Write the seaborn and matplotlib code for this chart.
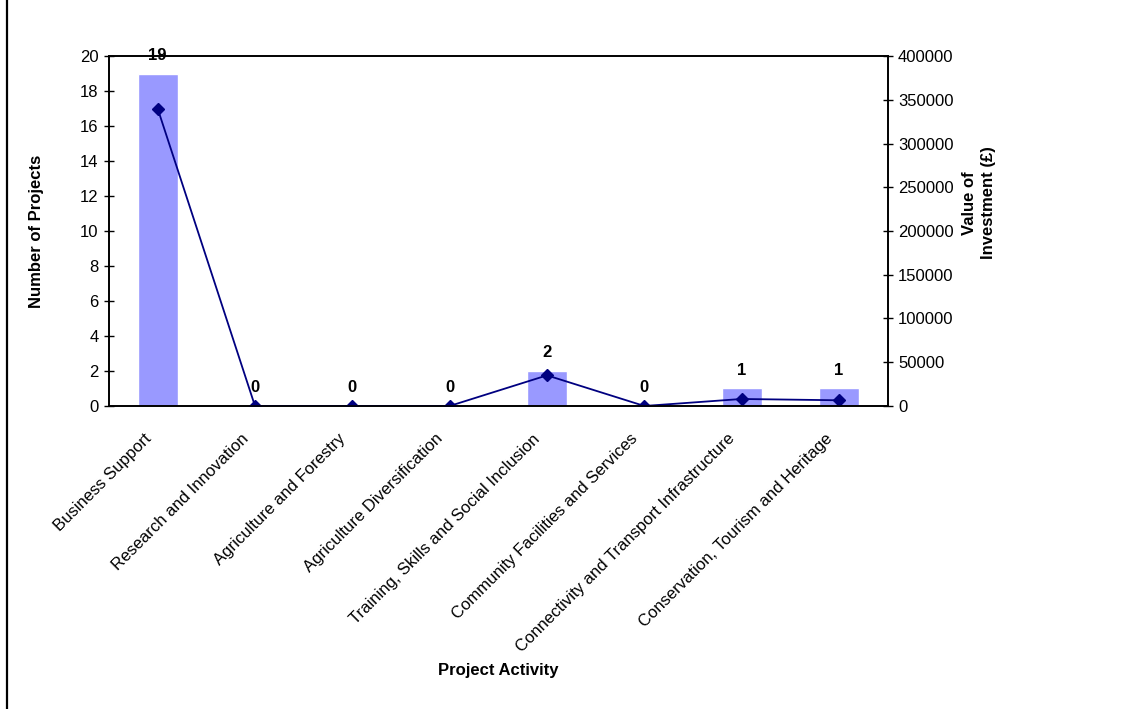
import matplotlib
matplotlib.use("Agg")
import matplotlib.pyplot as plt
import matplotlib.transforms as mtransforms
from matplotlib.lines import Line2D
import numpy as np
import pandas as pd
import seaborn as sns

categories = [
    "Business Support",
    "Research and Innovation",
    "Agriculture and Forestry",
    "Agriculture Diversification",
    "Training, Skills and Social Inclusion",
    "Community Facilities and Services",
    "Connectivity and Transport Infrastructure",
    "Conservation, Tourism and Heritage",
]
project_counts = [19, 0, 0, 0, 2, 0, 1, 1]
investment_values = [340000, 0, 0, 0, 35000, 0, 8000, 6500]

left_ticks = list(range(0, 21, 2))
right_ticks = list(range(0, 400001, 50000))

df = pd.DataFrame({
    "activity": categories,
    "projects": project_counts,
    "investment": investment_values,
})

sns.set_theme(style="white")
plt.rcParams["font.family"] = ["Liberation Sans", "DejaVu Sans"]
plt.rcParams.update({
    "text.color": "black",
    "axes.labelcolor": "black",
    "xtick.color": "black",
    "ytick.color": "black",
})

FS = 12

fig = plt.figure(figsize=(11.41, 7.09), dpi=100)
ax = fig.add_axes([0.0955, 0.4274, 0.6825, 0.4936])

sns.barplot(data=df, x="activity", y="projects", color="#9999FF",
            saturation=1, width=0.41, ax=ax)

ax2 = ax.twinx()
sns.pointplot(data=df, x="activity", y="investment", color="#000080",
              markers="D", markersize=6, linewidth=1.3, ax=ax2)

n = len(categories)
ax.set_xlim(-0.5, n - 0.5)
ax.set_ylim(0, 20)
ax2.set_ylim(0, 400000)
ax.set_yticks(left_ticks)
ax2.set_yticks(right_ticks)
ax2.set_yticklabels([str(v) for v in right_ticks])

# Category labels at centres, tick marks at category boundaries
ax.set_xticks(np.arange(n))
ax.set_xticklabels(categories, rotation=45, ha="right", va="center",
                   rotation_mode="anchor", fontsize=FS)
ax.tick_params(axis="x", which="major", length=0, pad=22)
shift = mtransforms.ScaledTranslation(-9 / 100, 0, fig.dpi_scale_trans)
for lbl in ax.get_xticklabels():
    lbl.set_transform(lbl.get_transform() + shift)
ax.set_xticks(np.arange(-0.5, n, 1.0), minor=True)
ax.tick_params(axis="x", which="minor", length=7, width=1, direction="inout",
               color="black")

ax.tick_params(axis="y", length=7, width=1, direction="inout", labelsize=FS,
               color="black", pad=4, left=True)
ax2.tick_params(axis="y", length=7, width=1, direction="inout", labelsize=FS,
                color="black", pad=4, right=True)

for a in (ax, ax2):
    for side in a.spines.values():
        side.set_color("black")
        side.set_linewidth(1.2)
        side.set_visible(True)
    a.grid(False)

# Counts printed above each bar
for i, v in enumerate(project_counts):
    ax.annotate(str(v), xy=(i, v), xytext=(0, 13), textcoords="offset points",
                ha="center", va="center", fontsize=FS, fontweight="bold")

ax.set_xlabel("Project Activity", fontsize=FS, fontweight="bold")
ax.xaxis.set_label_coords(0.5, -0.735)
ax.set_ylabel("Number of Projects", fontsize=FS, fontweight="bold")
ax.yaxis.set_label_coords(-0.084, 0.5)
ax2.set_ylabel("Value of\nInvestment (£)", fontsize=FS, fontweight="bold",
               linespacing=1.4)
ax2.yaxis.set_label_coords(1.095, 0.58)

fig.add_artist(Line2D([6.5 / 1141, 6.5 / 1141], [0, 1], color="black",
                      linewidth=1.6, transform=fig.transFigure))

fig.savefig("out.png", dpi=100, facecolor="white")
